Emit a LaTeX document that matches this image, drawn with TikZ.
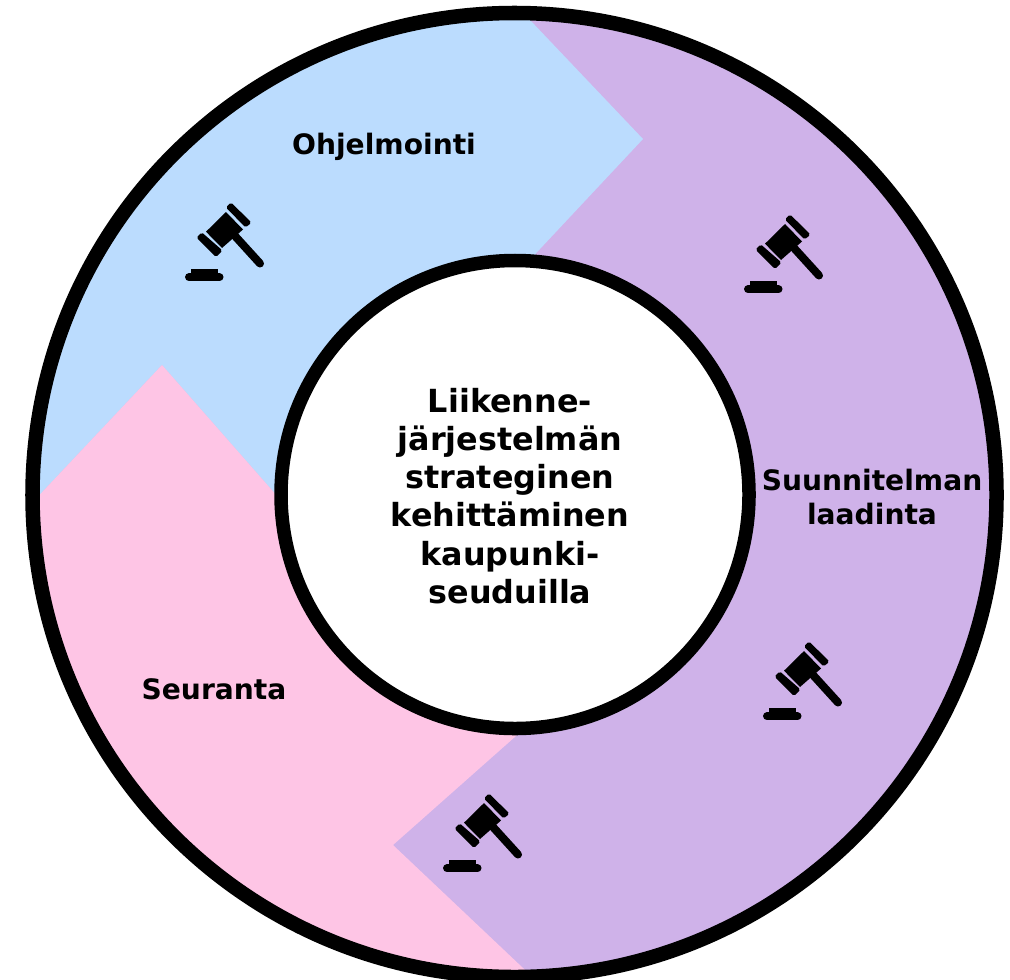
\documentclass[tikz,border=0pt]{standalone}
\usepackage{fontspec}
\setmainfont{DejaVu Sans}
\definecolor{ohjelmablue}{HTML}{BBDCFE}
\definecolor{laadintapurple}{HTML}{CFB2E9}
\definecolor{seurantapink}{HTML}{FEC5E5}
\tikzset{
  ringlabel/.style={font=\bfseries\fontsize{8pt}{9.4pt}\selectfont,align=center,text=black,inner sep=0pt},
  centerlabel/.style={font=\bfseries\fontsize{9.05pt}{10.85pt}\selectfont,align=center,text=black,inner sep=0pt},
  outerline/.style={line width=0.145cm,black},
  innerline/.style={line width=0.135cm,black},
  gavel/.pic={
    \fill[black] (36,41.7) -- (56,22) -- (73,39.5) -- (52,58) -- cycle;
    \draw[black,line width=0.08cm,line cap=round] (65,46) -- (90,73.5);
    \fill[black,rounded corners=0.5pt] (61,12.3) -- (81.5,32.7) -- (75.5,37.5) -- (56,17.5) -- cycle;
    \fill[black,rounded corners=0.5pt] (26.5,47.7) -- (31.7,42.3) -- (52.5,60.5) -- (46,67) -- cycle;
    \draw[black,line width=0.08cm,line cap=round] (19,87.3) -- (49.5,87.3);
    \fill[black] (20.7,79.3) rectangle (47.7,85);
  }
}
\begin{document}
\begin{tikzpicture}[x=0.01cm,y=-0.01cm]
\useasboundingbox (0,0) rectangle (1010,979);
\begin{scope}
  \clip (514.5,495) circle (482);
  \fill[laadintapurple] (0,0) rectangle (1010,985);
  \fill[ohjelmablue] (0,0) -- (511,0) -- (643,139) -- (525,265) -- (285,505) -- (162,365) -- (30,505) -- cycle;
  \fill[seurantapink] (0,505) -- (30,505) -- (162,365) -- (285,505) -- (525,728) -- (393,845) -- (541,985) -- (0,985) -- cycle;
\end{scope}
\fill[white] (515,494.5) circle (234);
\draw[outerline] (514.5,495) circle (482);
\draw[innerline] (515,494.5) circle (234);
\pic at (170,190) {gavel};
\pic at (729,202) {gavel};
\pic at (748,629) {gavel};
\pic at (428,781) {gavel};
\node[ringlabel] (ohjelmointi) at (384,147) {Ohjelmointi};
\node[ringlabel] (laadinta) at (872,497) {Suunnitelman\\laadinta};
\node[ringlabel] (seuranta) at (214,689) {Seuranta};
\node[centerlabel] (aihe) at (510,496) {Liikenne-\\järjestelmän\\strateginen\\kehittäminen\\kaupunki-\\seuduilla};
\end{tikzpicture}
\end{document}
